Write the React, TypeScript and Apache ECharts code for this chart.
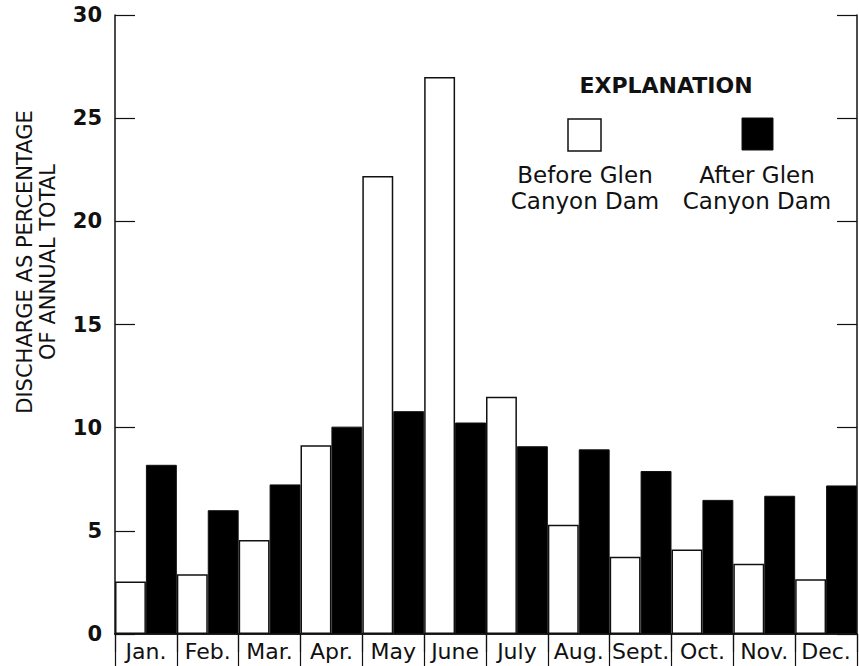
import React, { useEffect, useRef } from "react";
import * as echarts from "echarts";

const months = ["Jan.", "Feb.", "Mar.", "Apr.", "May", "June", "July", "Aug.", "Sept.", "Oct.", "Nov.", "Dec."];
const beforeDam = [2.55, 2.9, 4.55, 9.15, 22.2, 27.0, 11.5, 5.3, 3.75, 4.1, 3.4, 2.65];
const afterDam = [8.2, 6.0, 7.25, 10.05, 10.8, 10.25, 9.1, 8.95, 7.9, 6.5, 6.7, 7.2];
const yTicks = { min: 0, max: 30, interval: 5 };
const yAxisTitle = "DISCHARGE AS PERCENTAGE\nOF ANNUAL TOTAL";
const legendTitle = "EXPLANATION";
const beforeLabel = "Before Glen\nCanyon Dam";
const afterLabel = "After Glen\nCanyon Dam";

const INK = "#111";
const FONT = "DejaVu Sans";

export default function App() {
  const ref = useRef<HTMLDivElement>(null);
  useEffect(() => {
    document.body.style.margin = "0";
    if (!ref.current) return;
    const chart = echarts.init(ref.current, null, { renderer: "svg" });
    const lineStyle = { color: INK, width: 1.5 };
    chart.setOption({
      animation: false,
      backgroundColor: "#fff",
      grid: { left: 115, right: 2, top: 15, bottom: 32, containLabel: false },
      xAxis: [
        {
          type: "category",
          data: months,
          position: "bottom",
          axisLine: { show: true, lineStyle },
          axisTick: { show: true, inside: false, length: 32, interval: 0, lineStyle: { color: INK, width: 1.2 } },
          axisLabel: { interval: 0, color: INK, fontFamily: FONT, fontSize: 22, margin: 6 },
          splitLine: { show: false },
        },
        {
          type: "category",
          data: months,
          position: "top",
          axisLine: { show: true, lineStyle },
          axisTick: { show: true, inside: true, length: 18, interval: 0, lineStyle: { color: INK, width: 1.2 } },
          axisLabel: { show: false },
          splitLine: { show: false },
        },
      ],
      yAxis: [
        {
          type: "value",
          min: yTicks.min,
          max: yTicks.max,
          interval: yTicks.interval,
          position: "left",
          axisLine: { show: true, lineStyle },
          axisTick: { show: true, inside: true, length: 20, lineStyle: { color: INK, width: 1.2 } },
          axisLabel: { color: INK, fontFamily: FONT, fontWeight: "bold", fontSize: 21, margin: 13 },
          splitLine: { show: false },
        },
        {
          type: "value",
          min: yTicks.min,
          max: yTicks.max,
          interval: yTicks.interval,
          position: "right",
          axisLine: { show: true, lineStyle },
          axisTick: { show: true, inside: true, length: 20, lineStyle: { color: INK, width: 1.2 } },
          axisLabel: { show: false },
          splitLine: { show: false },
        },
      ],
      series: [
        {
          name: "Before Glen Canyon Dam",
          type: "bar",
          data: beforeDam,
          barGap: "0%",
          barCategoryGap: "0%",
          itemStyle: { color: "#fff", borderColor: INK, borderWidth: 1.5 },
        },
        {
          name: "After Glen Canyon Dam",
          type: "bar",
          data: afterDam,
          barGap: "0%",
          barCategoryGap: "0%",
          itemStyle: { color: "#000", borderColor: INK, borderWidth: 1 },
        },
      ],
      graphic: [
        {
          type: "text",
          x: 36,
          y: 262,
          rotation: Math.PI / 2,
          style: {
            text: yAxisTitle,
            fill: INK,
            font: `21px "${FONT}"`,
            lineHeight: 23,
            align: "center",
            verticalAlign: "middle",
          },
        },
        {
          type: "text",
          x: 666,
          y: 85,
          style: {
            text: legendTitle,
            fill: INK,
            font: `bold 22px "${FONT}"`,
            align: "center",
            verticalAlign: "middle",
          },
        },
        {
          type: "rect",
          shape: { x: 568, y: 119, width: 33, height: 32 },
          style: { fill: "#fff", stroke: INK, lineWidth: 1.5 },
        },
        {
          type: "rect",
          shape: { x: 742, y: 118, width: 31, height: 32 },
          style: { fill: "#000", stroke: INK, lineWidth: 1 },
        },
        {
          type: "text",
          x: 585,
          y: 188,
          style: {
            text: beforeLabel,
            fill: INK,
            font: `23px "${FONT}"`,
            lineHeight: 26,
            align: "center",
            verticalAlign: "middle",
          },
        },
        {
          type: "text",
          x: 757,
          y: 188,
          style: {
            text: afterLabel,
            fill: INK,
            font: `23px "${FONT}"`,
            lineHeight: 26,
            align: "center",
            verticalAlign: "middle",
          },
        },
      ],
    });
    return () => chart.dispose();
  }, []);
  return <div ref={ref} style={{ width: 859, height: 666 }} />;
}
